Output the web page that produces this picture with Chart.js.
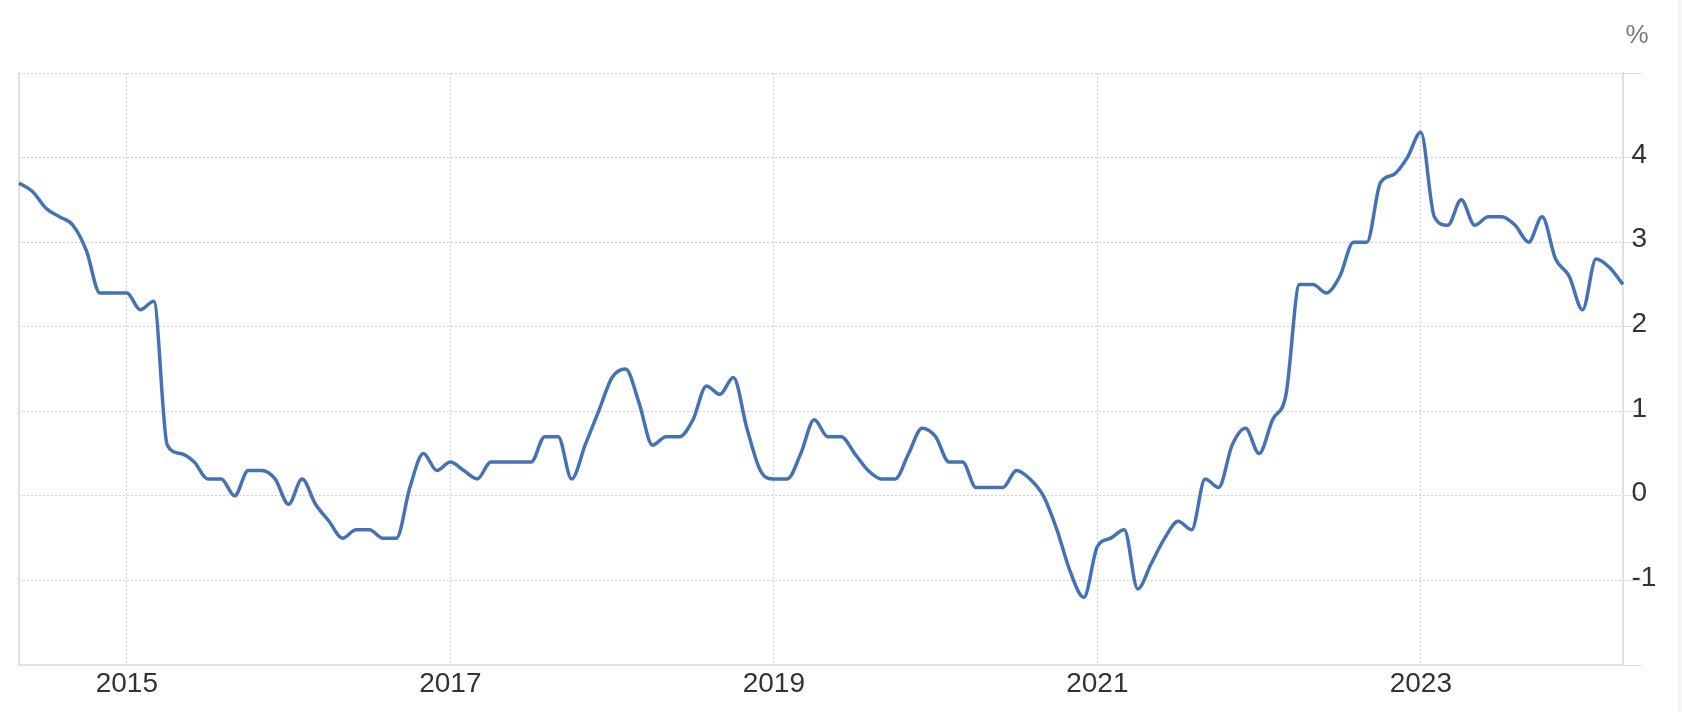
<!DOCTYPE html>
<html>
<head>
<meta charset="utf-8">
<title>Inflation Rate</title>
<script src="https://cdn.jsdelivr.net/npm/chart.js@4.4.1/dist/chart.umd.min.js"></script>
<style>
  html, body { margin: 0; padding: 0; background: #fff; }
  #wrap { position: relative; width: 1682px; height: 712px; overflow: hidden; }
  #unit {
    position: absolute; left: 1622px; top: 21px; width: 30px;
    text-align: center; line-height: 26px;
    font-family: "Liberation Sans", Arial, sans-serif; font-size: 26px; color: #7a7a7a;
  }
  #edge {
    position: absolute; left: 1678px; top: 0; width: 4px; height: 712px;
    background: #f7f7f7; border-left: 1px solid #ececec; box-sizing: border-box;
  }
</style>
</head>
<body>
<div id="wrap">
  <canvas id="cpiChart" width="1682" height="712"></canvas>
  <span id="unit">%</span>
  <div id="edge"></div>
</div>

<script>
// DATA (monthly, May 2014 - Apr 2024, % y/y)
const startYear = 2014;
const startMonth = 5;

const cpi = [
  3.7, 3.6, 3.4, 3.3, 3.2, 2.9, 2.4, 2.4,                    // 2014 May-Dec
  2.4, 2.2, 2.3, 0.6, 0.5, 0.4, 0.2, 0.2, 0.0, 0.3, 0.3, 0.2, // 2015
  -0.1, 0.2, -0.1, -0.3, -0.5, -0.4, -0.4, -0.5, -0.5, 0.1, 0.5, 0.3, // 2016
  0.4, 0.3, 0.2, 0.4, 0.4, 0.4, 0.4, 0.7, 0.7, 0.2, 0.6, 1.0, // 2017
  1.4, 1.5, 1.1, 0.6, 0.7, 0.7, 0.9, 1.3, 1.2, 1.4, 0.8, 0.3, // 2018
  0.2, 0.2, 0.5, 0.9, 0.7, 0.7, 0.5, 0.3, 0.2, 0.2, 0.5, 0.8, // 2019
  0.7, 0.4, 0.4, 0.1, 0.1, 0.1, 0.3, 0.2, 0.0, -0.4, -0.9, -1.2, // 2020
  -0.6, -0.5, -0.4, -1.1, -0.8, -0.5, -0.3, -0.4, 0.2, 0.1, 0.6, 0.8, // 2021
  0.5, 0.9, 1.2, 2.5, 2.5, 2.4, 2.6, 3.0, 3.0, 3.7, 3.8, 4.0, // 2022
  4.3, 3.3, 3.2, 3.5, 3.2, 3.3, 3.3, 3.2, 3.0, 3.3, 2.8, 2.6, // 2023
  2.2, 2.8, 2.7, 2.5                                          // 2024 Jan-Apr
];

// month labels "YYYY-MM" for each value
const months = cpi.map((v, i) => {
  const t = startYear * 12 + (startMonth - 1) + i;
  return Math.floor(t / 12) + "-" + String(t % 12 + 1).padStart(2, "0");
});

const yearTicks = ["2015", "2017", "2019", "2021", "2023"];
const yLabels = [-1, 0, 1, 2, 3, 4];
const yMin = -2;
const yMax = 5;

function isYearTick(i) {
  const m = months[i];
  return !!m && m.endsWith("-01") && yearTicks.includes(m.slice(0, 4));
}

// CHART
const font = { family: "'Liberation Sans', Arial, Helvetica, sans-serif", size: 28 };
const gridGray = "#d0d0d0";
const axisGray = "#e0e0e0";

new Chart(document.getElementById("cpiChart"), {
  type: "line",
  data: {
    labels: months,
    datasets: [{
      data: cpi,
      borderColor: "#4572b4",
      borderWidth: 3.5,
      cubicInterpolationMode: "monotone",
      pointRadius: 0,
      pointHoverRadius: 0,
      fill: false
    }]
  },
  options: {
    responsive: false,
    animation: false,
    events: [],
    layout: {
      autoPadding: false,
      padding: { left: 19, top: 73, right: 0, bottom: 0 }
    },
    plugins: {
      legend: { display: false },
      tooltip: { enabled: false }
    },
    scales: {
      x: {
        offset: false,
        grid: {
          drawTicks: false,
          color: gridGray,
          lineWidth: c => isYearTick(c.index) ? 1 : 0
        },
        border: { display: true, color: axisGray, width: 2, dash: [2, 2] },
        ticks: {
          autoSkip: false,
          maxRotation: 0,
          minRotation: 0,
          padding: 2,
          color: "#333",
          font: font,
          callback: (v, i) => isYearTick(i) ? months[i].slice(0, 4) : ""
        },
        afterFit: s => { s.height = 47; }
      },
      y: {
        position: "right",
        min: yMin,
        max: yMax,
        ticks: {
          stepSize: 1,
          padding: -10.5,
          labelOffset: -2.5,
          color: "#333",
          font: font,
          callback: v => yLabels.includes(v) ? String(v) : ""
        },
        grid: {
          color: gridGray,
          lineWidth: 1,
          drawTicks: true,
          tickLength: 19,
          tickColor: axisGray,
          tickWidth: 1
        },
        border: { display: true, color: axisGray, width: 2, dash: [2, 2] },
        afterFit: s => { s.width = 59; }
      },
      yLeft: {
        position: "left",
        min: yMin,
        max: yMax,
        ticks: { display: false },
        grid: { display: false },
        border: { display: true, color: axisGray, width: 2 },
        afterFit: s => { s.width = 0; }
      }
    }
  }
});
</script>
</body>
</html>
